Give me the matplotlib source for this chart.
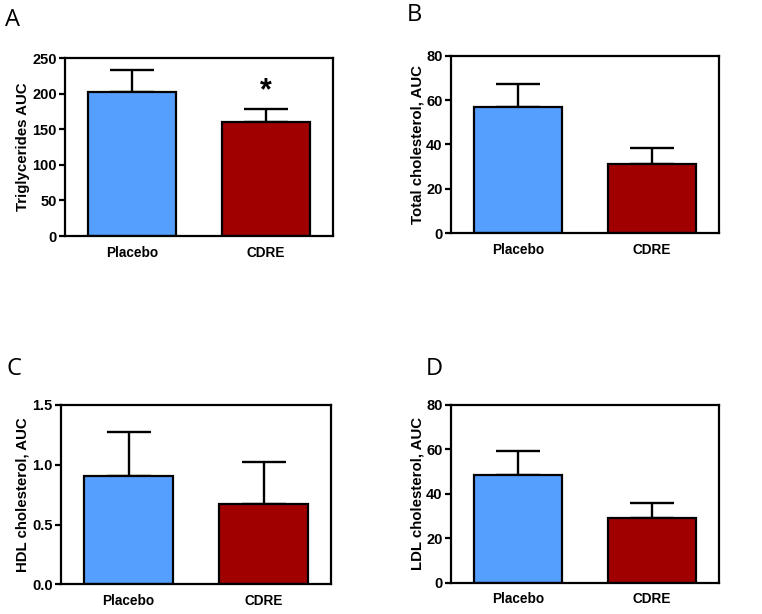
import numpy as np
import matplotlib.pyplot as plt

# Dados (media e erro superior)
groups = ["Placebo", "CDRE"]
trig_mean = [202, 160]
trig_err = [31, 19]
total_mean = [56.7, 31.0]
total_err = [10.4, 7.5]
hdl_mean = [0.91, 0.675]
hdl_err = [0.365, 0.35]
ldl_mean = [48.4, 28.9]
ldl_err = [11.0, 7.2]

colors = ["#55A0FF", "#A00000"]
fontname = "Liberation Sans"

fig = plt.figure(figsize=(7.62, 6.14), dpi=100)

panels = [
    ("A", [0.0853, 0.6156, 0.3513, 0.2896], trig_mean, trig_err, "Triglycerides AUC",
     (0, 250), [0, 50, 100, 150, 200, 250], "{:.0f}"),
    ("B", [0.5919, 0.6205, 0.3517, 0.2888], total_mean, total_err, "Total cholesterol, AUC",
     (0, 80), [0, 20, 40, 60, 80], "{:.0f}"),
    ("C", [0.0801, 0.0484, 0.3543, 0.2920], hdl_mean, hdl_err, "HDL cholesterol, AUC",
     (0, 1.5), [0.0, 0.5, 1.0, 1.5], "{:.1f}"),
    ("D", [0.5919, 0.0510, 0.3517, 0.2894], ldl_mean, ldl_err, "LDL cholesterol, AUC",
     (0, 80), [0, 20, 40, 60, 80], "{:.0f}"),
]

letter_pos = {"A": (5, 8), "B": (407, 3), "C": (7, 357), "D": (426, 357)}

for name, rect, means, errs, ylabel, ylim, yticks, fmt in panels:
    ax = fig.add_axes(rect)
    x = np.arange(len(groups))
    ax.errorbar(x, means, yerr=[[0] * len(errs), errs], fmt="none",
                ecolor="black", elinewidth=1.7, capsize=15.5, capthick=1.7, zorder=1)
    ax.bar(x, means, width=0.655, color=colors, edgecolor="black", linewidth=1.6, zorder=2)
    ax.set_xlim(-0.5, 1.5)
    ax.set_ylim(*ylim)
    ax.set_yticks(yticks)
    ax.set_yticklabels([fmt.format(t) for t in yticks], fontweight="bold",
                       fontsize=10.5, fontname=fontname)
    ax.set_xticks(x)
    ax.set_xticklabels(groups, fontweight="bold", fontsize=9.8, fontname=fontname)
    ax.tick_params(axis="x", length=0, pad=7)
    ax.tick_params(axis="y", length=4.5, width=1.6, pad=1.5)
    ax.set_ylabel(ylabel, fontweight="bold", fontsize=10.8, fontname=fontname, labelpad=1.5)
    for s in ax.spines.values():
        s.set_linewidth(1.6)
    lx, ly = letter_pos[name]
    fig.text(lx / 762, 1 - ly / 614, name, fontsize=17, fontname="Open Sans",
             va="top", ha="left")
    if name == "A":
        ax.text(1, means[1] + errs[1] + 3, "*", ha="center", va="bottom",
                fontsize=22, fontweight="bold", fontname=fontname)

fig.savefig("out.png", dpi=100)
